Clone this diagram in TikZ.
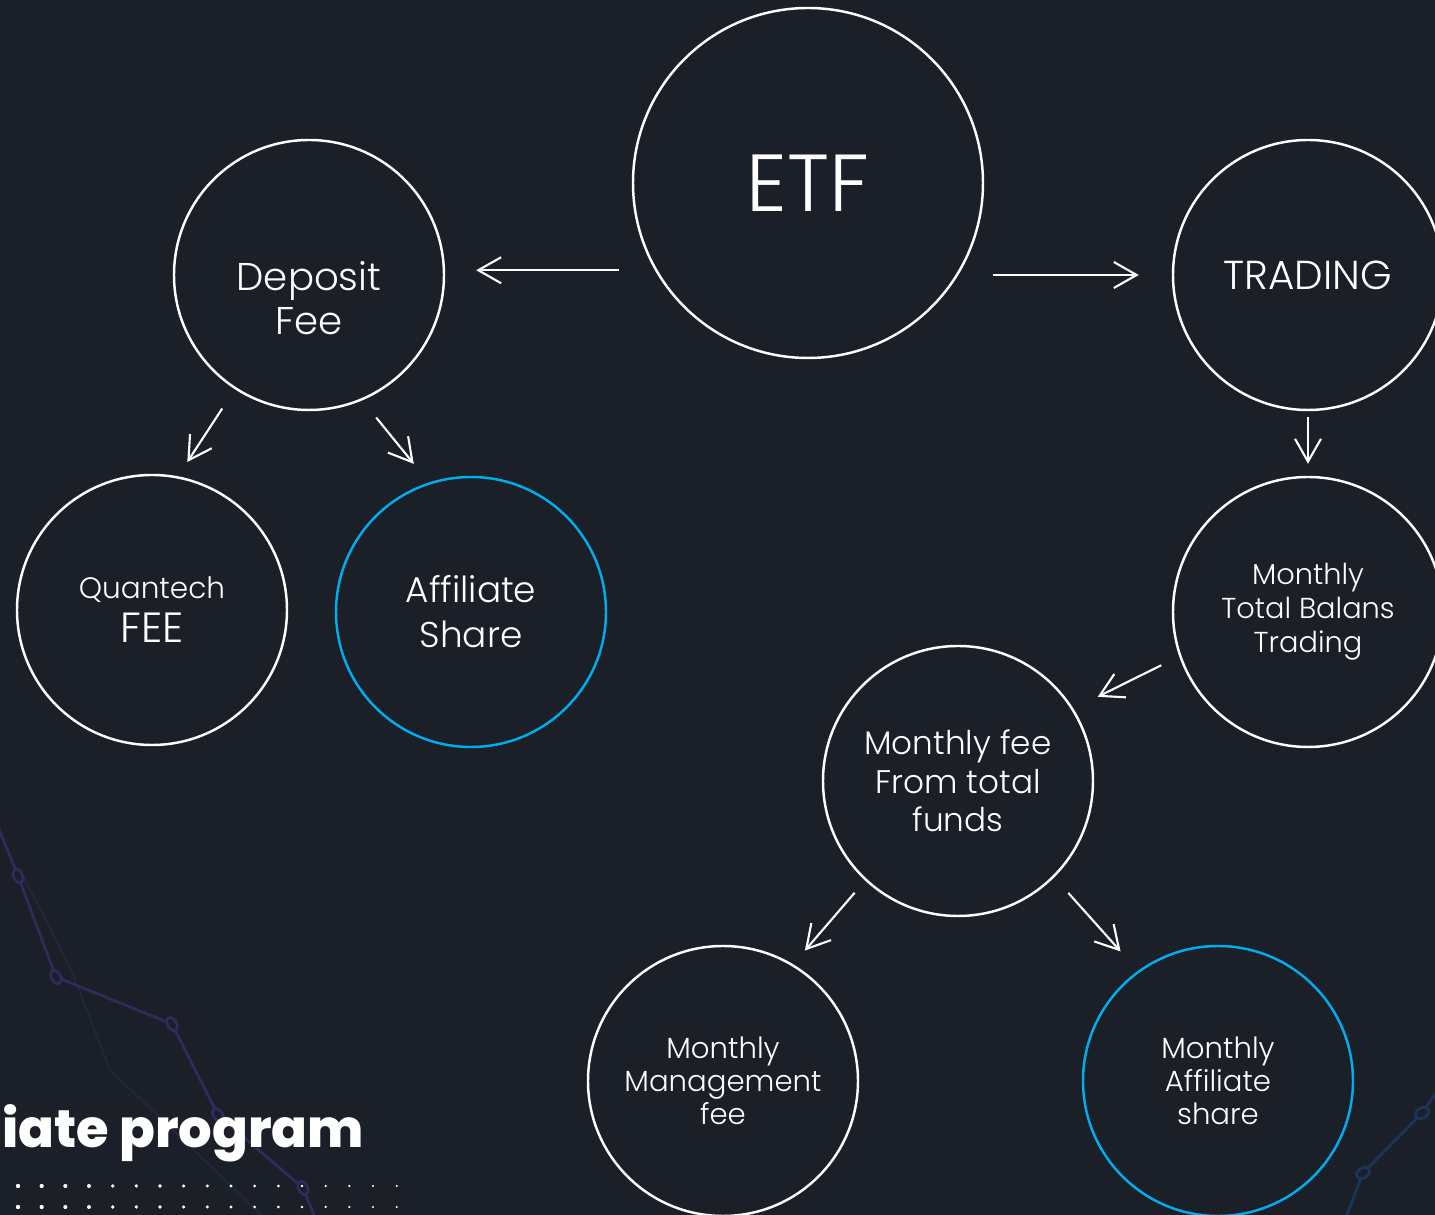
\documentclass[tikz,border=0pt]{standalone}
\usepackage{fontspec}
\setmainfont{Poppins}[UprightFont=* Light]
\newfontfamily\heavyfont{Poppins}[UprightFont=* ExtraBold]
\usetikzlibrary{arrows.meta}
\definecolor{bg}{HTML}{1B1F27}
\definecolor{sky}{HTML}{00AEEF}
\definecolor{trail}{HTML}{302B5A}
\definecolor{trailb}{HTML}{1B3558}
\definecolor{faint}{HTML}{22263A}
\begin{document}
\begin{tikzpicture}[x=.1mm, y=-.1mm, >={Straight Barb[length=6.5pt,width=7.4pt]},
  bub/.style={circle, draw=white, line width=.7pt, minimum size=27mm, inner sep=0pt, align=center, text=white},
  arr/.style={->, white, line width=.6pt}]
\clip (0,0) rectangle (1435,1215);
\fill[bg] (0,0) rectangle (1435,1215);

% chart trails in the back
\draw[faint, line width=.6pt] (20,870)--(70,967)--(110,1070)--(267,1220);
\draw[trail, line width=.8pt] (-8,812)--(18,876)--(56,977)--(172,1024)--(218,1115)--(303,1188)--(316,1220);
\foreach \x/\y/\a in {18/876/-68, 56/977/-62, 172/1024/-58, 218/1115/-55, 303/1188/-62}
    \draw[trail, fill=bg, line width=.8pt, rotate around={\a:(\x,\y)}] (\x,\y) ellipse (7 and 4.5);
\draw[trailb, line width=.8pt] (1445,1080)--(1422,1113)--(1363,1173)--(1345,1220);
\foreach \x/\y in {1422/1113, 1363/1173}
    \draw[trailb, fill=bg, line width=.8pt, rotate around={30:(\x,\y)}] (\x,\y) ellipse (7 and 5);

\node[anchor=base west, inner sep=0pt, text=white, font=\heavyfont\fontsize{15}{16}\selectfont] (ttl) at (2,1148) {iate program};
\foreach \i in {0,...,16}
{
    \fill[white] (18+23.67*\i, 1186) circle (2.2-0.07*\i);
    \fill[white] (18+23.67*\i, 1207) circle (2.2-0.07*\i);
}

\node[bub, minimum size=35mm, font=\fontsize{23}{26}\selectfont] (etf) at (808,183) {ETF};
\node[bub, label={[name=deptxt, yshift=-2.3mm, align=center, text=white, font=\fontsize{11}{12.5}\selectfont]center:Deposit\\Fee}] (dep) at (309,275) {};
\node[bub, font=\fontsize{11.5}{12.5}\selectfont] (trd) at (1308,275) {TRADING};
\node[bub, font=\fontsize{8.4}{12.5}\selectfont] (qf) at (152,610) {Quantech\\{\fontsize{12}{12}\selectfont FEE}};
\node[bub, draw=sky, font=\fontsize{10.2}{12.8}\selectfont] (aff) at (471,612) {Affiliate\\Share};
\node[bub, font=\fontsize{8.2}{9.7}\selectfont] (mtb) at (1308,612) {Monthly\\Total Balans\\Trading};
\node[bub, font=\fontsize{9.3}{11}\selectfont] (mff) at (958,781) {Monthly fee\\From total\\funds};
\node[bub, font=\fontsize{8.3}{9.4}\selectfont] (mmf) at (723,1081) {Monthly\\Management\\fee};
\node[bub, draw=sky, font=\fontsize{8.3}{9.4}\selectfont] (mas) at (1218,1081) {Monthly\\Affiliate\\share};

\draw[arr, shorten <=1.3mm, shorten >=3.1mm] (etf.west |- dep.2) -- (dep.2);
\draw[arr, shorten <=.9mm, shorten >=3.3mm] (etf.east |- trd.west) -- (trd.west);
\foreach \a/\b/\s/\e in {dep.237/qf.79/2.3/1.7, dep.293/aff.108/2.2/2.4, trd.south/mtb.north/.6/1.2,
    mtb.199/mff.32/2.0/2.7, mff.227/mmf.59/1.6/1.8, mff.315/mas.126/2.1/2.6}
    \draw[arr, shorten <=\s mm, shorten >=\e mm] (\a) -- (\b);
\end{tikzpicture}
\end{document}
